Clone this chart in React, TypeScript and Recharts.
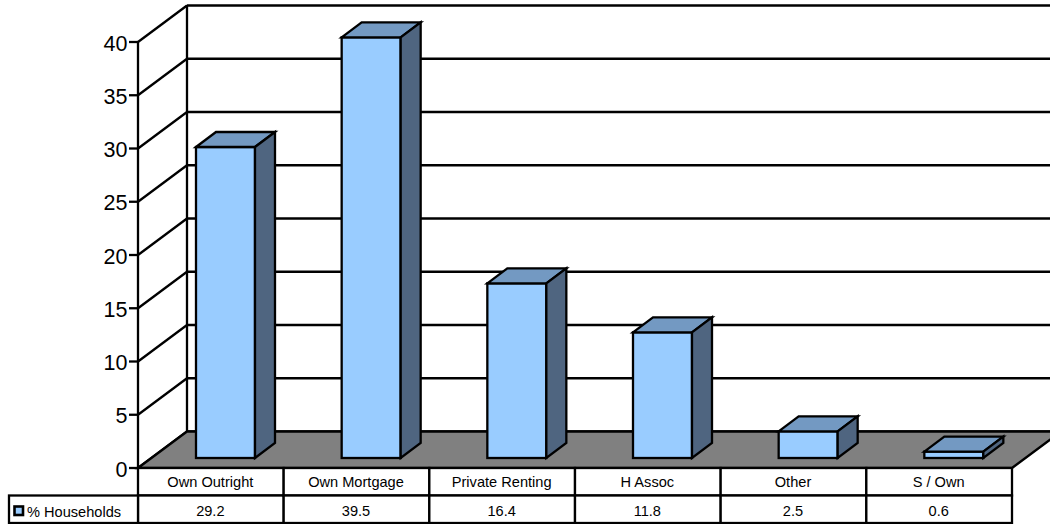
import { BarChart, Bar, XAxis, YAxis, CartesianGrid } from 'recharts';

const categories = ['Own Outright', 'Own Mortgage', 'Private Renting', 'H Assoc', 'Other', 'S / Own'];
const households = [29.2, 39.5, 16.4, 11.8, 2.5, 0.6];
const yTicks = [0, 5, 10, 15, 20, 25, 30, 35, 40];
const seriesName = '% Households';

const chartData = categories.map((name, i) => ({ name, value: households[i] }));

const FONT = '"Liberation Sans", Arial, sans-serif';
const INK = '#000';
const LINE = 2.3;
const WIDTH = 1050;
const HEIGHT = 524;
const LEFT = 138;
const RIGHT = 1012;
const BOTTOM = 468;
// offset from the front of the box to the back wall
const WALL_DX = 49;
const WALL_DY = -36.5;
const CELL = (RIGHT - LEFT) / categories.length;
const ROW = 27.5;

// Wall lines for each tick; the zero line also lays down the floor and the side wall edge
function WallLine({ x1, x2, y1 }: any) {
  const backY = y1 + WALL_DY;
  const backX = x1 + WALL_DX;
  const isFloor = Math.abs(y1 - BOTTOM) < 1;
  return (
    <g stroke={INK} strokeWidth={LINE} fill="none">
      <line x1={x1} y1={y1} x2={backX} y2={backY} />
      <line x1={backX} y1={backY} x2={x2 + WALL_DX} y2={backY} />
      {isFloor && (
        <>
          <line x1={backX} y1={backY} x2={backX} y2={5} />
          <polygon
            points={`${x1},${y1} ${backX},${backY} ${x2 + WALL_DX},${backY} ${x2},${y1}`}
            fill="#808080"
          />
        </>
      )}
    </g>
  );
}

// Box with front, top and side faces
function Box3D({ x, y, width, height }: any) {
  const fx = x + 15;
  const fy = y - 10;
  const dx = 20;
  const dy = -15;
  const right = fx + width;
  const bottom = fy + height;
  return (
    <g stroke={INK} strokeWidth={LINE} strokeLinejoin="miter">
      <rect x={fx} y={fy} width={width} height={height} fill="#99CCFF" />
      <polygon
        points={`${fx},${fy} ${fx + dx},${fy + dy} ${right + dx},${fy + dy} ${right},${fy}`}
        fill="#7399C2"
      />
      <polygon
        points={`${right},${fy} ${right + dx},${fy + dy} ${right + dx},${bottom + dy} ${right},${bottom}`}
        fill="#4F6580"
      />
    </g>
  );
}

// Data table under the axis: category row, value row and the series key on the left
function TableColumn({ x, y, payload, index }: any) {
  const left = x - CELL / 2;
  return (
    <g fontFamily={FONT} fontSize={14.6} fill={INK}>
      <rect x={left} y={y} width={CELL} height={ROW} fill="#fff" stroke={INK} strokeWidth={LINE} />
      <rect x={left} y={y + ROW} width={CELL} height={ROW} fill="#fff" stroke={INK} strokeWidth={LINE} />
      <text x={x - 0.5} y={y + 19} textAnchor="middle">{payload.value}</text>
      <text x={x - 0.5} y={y + ROW + 20} textAnchor="middle">{households[index].toFixed(1)}</text>
      {index === 0 && (
        <g>
          <rect x={9} y={y + ROW} width={LEFT - 9} height={ROW} fill="#fff" stroke={INK} strokeWidth={LINE} />
          <rect x={14.5} y={y + ROW + 11} width={8.5} height={8.5} fill="#99CCFF" stroke={INK} strokeWidth={2.6} />
          <text x={27} y={y + ROW + 21}>{seriesName}</text>
        </g>
      )}
    </g>
  );
}

export default function App() {
  return (
    <div style={{ position: 'absolute', left: 0, top: 0, width: WIDTH, height: HEIGHT, background: '#fff' }}>
      <BarChart
        width={WIDTH}
        height={HEIGHT}
        data={chartData}
        margin={{ top: 42, right: WIDTH - RIGHT, bottom: 0, left: 0 }}
      >
        <CartesianGrid vertical={false} horizontal={(props: any) => <WallLine key={props.y1} {...props} />} />
        <XAxis
          dataKey="name"
          height={HEIGHT - BOTTOM}
          axisLine={false}
          tickLine={false}
          tickSize={0}
          tickMargin={0}
          interval={0}
          tick={(props: any) => <TableColumn {...props} />}
        />
        <YAxis
          width={LEFT}
          domain={[0, 40]}
          ticks={yTicks}
          tickSize={9}
          tickMargin={1.5}
          axisLine={{ stroke: INK, strokeWidth: LINE }}
          tickLine={{ stroke: INK, strokeWidth: LINE }}
          tick={{ fill: INK, fontSize: 21.5, fontFamily: FONT, dy: 1 }}
        />
        <Bar dataKey="value" name={seriesName} barSize={59} isAnimationActive={false} shape={(props: any) => <Box3D {...props} />} />
      </BarChart>
    </div>
  );
}
